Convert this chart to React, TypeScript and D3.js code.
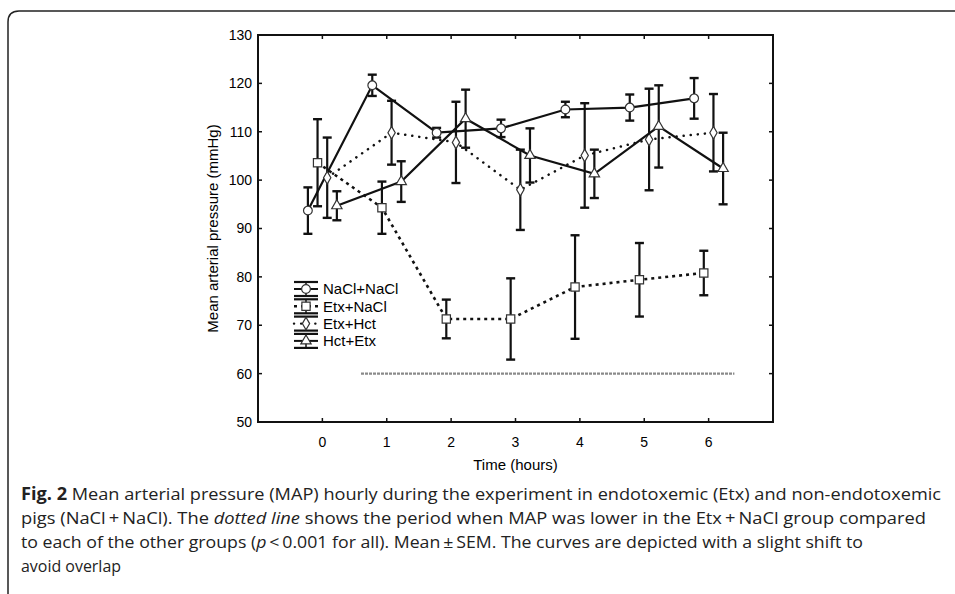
import * as React from 'react';
import * as d3 from 'd3';

// hourly mean arterial pressure (mmHg), mean and SEM per group
const hours = [0, 1, 2, 3, 4, 5, 6];
const naclMean = [93.7, 119.6, 109.8, 110.7, 114.6, 115.0, 116.9];
const naclSem = [4.8, 2.2, 1.0, 1.8, 1.6, 2.7, 4.2];
const etxNaclMean = [103.6, 94.3, 71.3, 71.3, 77.9, 79.4, 80.8];
const etxNaclSem = [9.0, 5.4, 4.0, 8.4, 10.7, 7.6, 4.6];
const etxHctMean = [100.5, 109.8, 107.8, 98.0, 105.1, 108.4, 109.8];
const etxHctSem = [8.3, 6.6, 8.4, 8.3, 10.8, 10.5, 8.0];
const hctEtxMean = [94.7, 99.7, 112.7, 105.1, 101.3, 111.1, 102.4];
const hctEtxSem = [3.0, 4.2, 6.0, 5.6, 5.0, 8.5, 7.4];
const seriesNames = ['NaCl+NaCl', 'Etx+NaCl', 'Etx+Hct', 'Hct+Etx'];
const yTicks = [50, 60, 70, 80, 90, 100, 110, 120, 130];
const sigPeriod = [0.6, 6.4];
const sigLevel = 60;

const captionLines = [
  [{ t: 'Fig. 2', w: 'bold' }, { t: ' Mean arterial pressure (MAP) hourly during the experiment in endotoxemic (Etx) and non-endotoxemic' }],
  [{ t: 'pigs (NaCl\u2009+\u2009NaCl). The ' }, { t: 'dotted line', s: 'italic' }, { t: ' shows the period when MAP was lower in the Etx\u2009+\u2009NaCl group compared' }],
  [{ t: 'to each of the other groups (' }, { t: 'p', s: 'italic' }, { t: '\u2009<\u20090.001 for all). Mean\u2009\u00b1\u2009SEM. The curves are depicted with a slight shift to' }],
  [{ t: 'avoid overlap' }],
];
const captionWidths = [920, 905, 842, 100];

const App = () => {
  const ref = React.useRef<SVGSVGElement>(null);

  React.useEffect(() => {
    const width = 955;
    const height = 594;
    const margin = { left: 258, right: 182, top: 35, bottom: 172 };
    const svg = d3.select(ref.current);
    svg.selectAll('*').remove();
    svg.attr('width', width).attr('height', height);

    const font = '"Liberation Sans", Arial, sans-serif';

    // outer panel frame (left + top, rounded corner)
    svg.append('path')
      .attr('d', `M8,${height} L8,22 Q8,11 19,11 L${width},11`)
      .attr('fill', 'none')
      .attr('stroke', '#222')
      .attr('stroke-width', 1.5);

    const x = d3.scaleLinear().domain([-1, 7]).range([margin.left, width - margin.right]);
    const y = d3.scaleLinear().domain([50, 130]).range([height - margin.bottom, margin.top]);

    const series = [
      { name: seriesNames[0], mean: naclMean, sem: naclSem, shift: -0.225, dash: null, marker: 'circle' },
      { name: seriesNames[1], mean: etxNaclMean, sem: etxNaclSem, shift: -0.075, dash: '3,4', marker: 'square' },
      { name: seriesNames[2], mean: etxHctMean, sem: etxHctSem, shift: 0.075, dash: '0.1,7', marker: 'diamond' },
      { name: seriesNames[3], mean: hctEtxMean, sem: hctEtxSem, shift: 0.225, dash: null, marker: 'triangle' },
    ];

    const symbols = {
      circle: d3.symbol().type(d3.symbolCircle).size(60),
      square: d3.symbol().type(d3.symbolSquare).size(68),
      diamond: d3.symbol().type(d3.symbolDiamond).size(46),
      triangle: d3.symbol().type(d3.symbolTriangle).size(46),
    };

    // significance period
    svg.append('line')
      .attr('x1', x(sigPeriod[0]))
      .attr('x2', x(sigPeriod[1]))
      .attr('y1', y(sigLevel))
      .attr('y2', y(sigLevel))
      .attr('stroke', '#8a8a8a')
      .attr('stroke-width', 2.2)
      .attr('stroke-dasharray', '3,1');

    const g = svg.append('g');
    series.forEach(s => {
      const pts = hours.map((h, i) => ({ h: h + s.shift, m: s.mean[i], e: s.sem[i] }));
      const line = d3.line<any>().x(d => x(d.h)).y(d => y(d.m));
      const dotted = s.dash === '0.1,7';
      g.append('path')
        .attr('d', line(pts))
        .attr('fill', 'none')
        .attr('stroke', '#111')
        .attr('stroke-width', dotted ? 2.5 : s.dash ? 2.6 : 2.2)
        .attr('stroke-linecap', dotted ? 'round' : 'butt')
        .attr('stroke-dasharray', s.dash);

      const eb = g.append('g');
      pts.forEach(d => {
        eb.append('line')
          .attr('x1', x(d.h)).attr('x2', x(d.h))
          .attr('y1', y(d.m - d.e)).attr('y2', y(d.m + d.e))
          .attr('stroke', '#111').attr('stroke-width', 2.2);
        [d.m - d.e, d.m + d.e].forEach(v => {
          eb.append('line')
            .attr('x1', x(d.h) - 4.5).attr('x2', x(d.h) + 4.5)
            .attr('y1', y(v)).attr('y2', y(v))
            .attr('stroke', '#111').attr('stroke-width', 2.4);
        });
      });

      g.append('g').selectAll('path')
        .data(pts)
        .enter().append('path')
        .attr('d', symbols[s.marker]())
        .attr('transform', d => `translate(${x(d.h)},${y(d.m)})`)
        .attr('fill', '#fff')
        .attr('stroke', '#333')
        .attr('stroke-width', 1.2);
    });

    // plot frame
    svg.append('rect')
      .attr('x', margin.left)
      .attr('y', margin.top)
      .attr('width', width - margin.left - margin.right)
      .attr('height', height - margin.top - margin.bottom)
      .attr('fill', 'none')
      .attr('stroke', '#111')
      .attr('stroke-width', 2);

    // inward ticks
    const tk = svg.append('g').attr('stroke', '#111').attr('stroke-width', 1.5);
    hours.forEach(h => {
      tk.append('line').attr('x1', x(h)).attr('x2', x(h)).attr('y1', y(50)).attr('y2', y(50) - 4);
      tk.append('line').attr('x1', x(h)).attr('x2', x(h)).attr('y1', y(130)).attr('y2', y(130) + 4);
    });
    yTicks.forEach(v => {
      tk.append('line').attr('x1', x(-1)).attr('x2', x(-1) + 4).attr('y1', y(v)).attr('y2', y(v));
      tk.append('line').attr('x1', x(7)).attr('x2', x(7) - 4).attr('y1', y(v)).attr('y2', y(v));
    });

    svg.append('g').selectAll('text')
      .data(yTicks)
      .enter().append('text')
      .attr('x', margin.left - 6)
      .attr('y', d => y(d))
      .attr('dy', '0.35em')
      .attr('text-anchor', 'end')
      .style('font', `14px ${font}`)
      .text(d => d);

    svg.append('g').selectAll('text')
      .data(hours)
      .enter().append('text')
      .attr('x', d => x(d))
      .attr('y', y(50) + 20)
      .attr('dy', '0.35em')
      .attr('text-anchor', 'middle')
      .style('font', `14px ${font}`)
      .text(d => d);

    svg.append('text')
      .attr('x', (margin.left + width - margin.right) / 2)
      .attr('y', y(50) + 43)
      .attr('dy', '0.35em')
      .attr('text-anchor', 'middle')
      .style('font', `15px ${font}`)
      .text('Time (hours)');

    svg.append('text')
      .attr('transform', `translate(213,${(y(50) + y(130)) / 2})rotate(-90)`)
      .attr('dy', '0.35em')
      .attr('text-anchor', 'middle')
      .style('font', `15px ${font}`)
      .text('Mean arterial pressure (mmHg)');

    // legend
    const lg = svg.append('g');
    series.forEach((s, i) => {
      const ly = 289 + i * 17.3;
      const cx = 306;
      [ly - 7, ly + 7].forEach(by => {
        lg.append('line')
          .attr('x1', cx - 12).attr('x2', cx + 12)
          .attr('y1', by).attr('y2', by)
          .attr('stroke', '#111').attr('stroke-width', 2.2);
      });
      lg.append('line')
        .attr('x1', cx - 12).attr('x2', cx + 12)
        .attr('y1', ly).attr('y2', ly)
        .attr('stroke', '#111')
        .attr('stroke-width', s.dash ? 2.4 : 2)
        .attr('stroke-linecap', s.dash === '0.1,7' ? 'round' : 'butt')
        .attr('stroke-dasharray', s.dash);
      lg.append('line')
        .attr('x1', cx).attr('x2', cx)
        .attr('y1', ly - 7).attr('y2', ly + 7)
        .attr('stroke', '#111').attr('stroke-width', 1.5);
      lg.append('path')
        .attr('d', symbols[s.marker]())
        .attr('transform', `translate(${cx},${ly})`)
        .attr('fill', '#fff')
        .attr('stroke', '#333')
        .attr('stroke-width', 1.2);
      lg.append('text')
        .attr('x', 323)
        .attr('y', ly)
        .attr('dy', '0.35em')
        .style('font', `15px ${font}`)
        .text(s.name);
    });

    // caption
    const cap = svg.append('g');
    captionLines.forEach((parts, i) => {
      const t = cap.append('text')
        .attr('x', 21)
        .attr('y', 500 + i * 24)
        .attr('textLength', captionWidths[i])
        .attr('lengthAdjust', 'spacingAndGlyphs')
        .style('font-family', '"Open Sans", sans-serif')
        .style('font-size', '17px')
        .attr('fill', '#222');
      parts.forEach((p: any) => {
        t.append('tspan')
          .attr('font-weight', p.w || 'normal')
          .attr('font-style', p.s || 'normal')
          .text(p.t);
      });
    });
  }, []);

  return (
    <svg ref={ref} style={{ position: 'absolute', left: 0, top: 0 }}></svg>
  );
};

export default App;
